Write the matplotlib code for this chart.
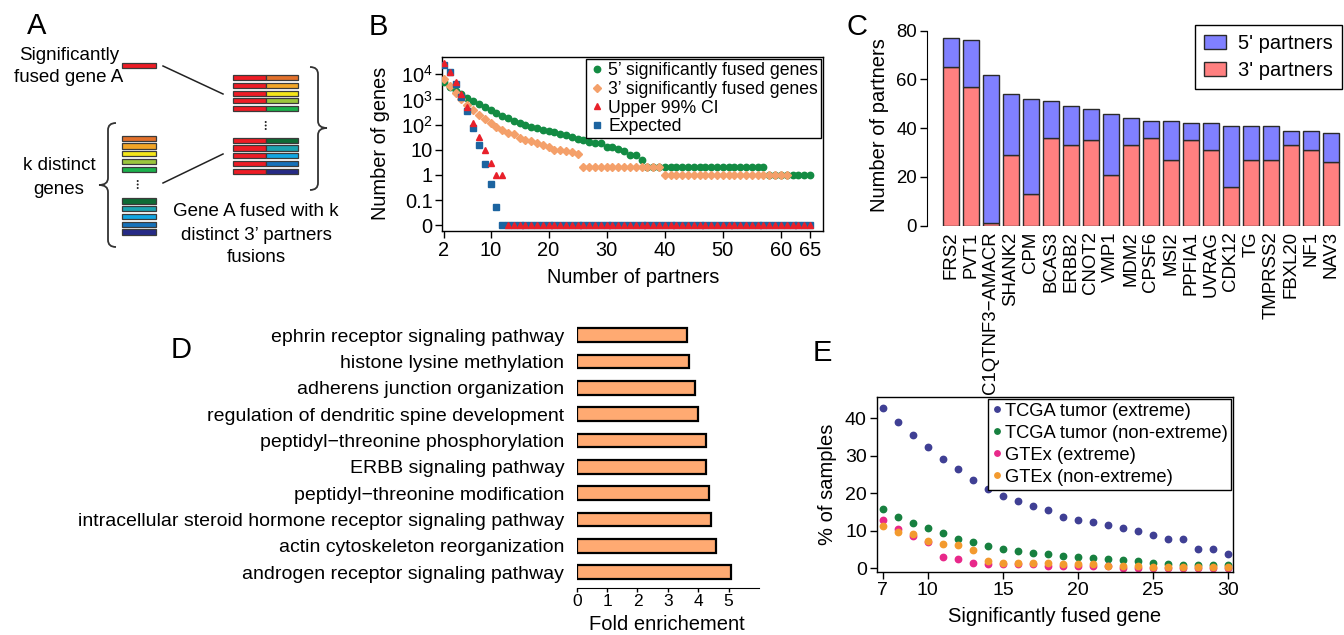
import numpy as np
import matplotlib
matplotlib.use("Agg")
import matplotlib.pyplot as plt
from matplotlib.patches import Rectangle, PathPatch, Circle
from matplotlib.path import Path

plt.rcParams['font.family'] = ['Liberation Sans', 'DejaVu Sans']
plt.rcParams['mathtext.fontset'] = 'custom'
plt.rcParams['mathtext.rm'] = 'Liberation Sans'
plt.rcParams['mathtext.it'] = 'Liberation Sans:italic'
plt.rcParams['axes.unicode_minus'] = True

# ---------------- DATA ----------------
# Panel A (schematic)
gene_a_color = '#EE1C25'
k_colors_top = ['#E2702B', '#F2A527', '#F5E61A', '#9BC53D', '#1BB14C']
k_colors_bottom = ['#0E6B35', '#1BA3B0', '#12A6E3', '#1571BA', '#262A86']

# Panel B
partners_b = np.arange(2, 66)
partners_b3 = np.arange(2, 62)
five_prime = [4900, 3200, 2200, 1600, 1170, 870, 660, 500, 380, 300,
              230, 183, 142, 115, 96, 82, 72, 60, 55, 49,
              42, 37, 32, 26, 24, 21, 18, 18, 13, 13,
              11, 9, 6, 6, 4,
              2, 2, 2, 2, 2, 2, 2, 2, 2, 2, 2, 2, 2, 2, 2, 2, 2, 2, 2, 2, 2,
              1, 1, 1, 1, 1, 1, 1, 1]
three_prime = [6300, 3400, 1750, 1000, 600, 380, 240, 160, 115, 82,
               59, 46, 41, 30, 24, 22, 19, 15, 13, 10,
               10, 9, 8, 7,
               2, 2, 2, 2, 2, 2, 2, 2, 2, 2, 2, 2, 2, 2,
               1, 1, 1, 1, 1, 1, 1, 1, 1, 1, 1, 1, 1, 1, 1, 1, 1, 1, 1, 1, 1, 1]
upper_ci = [27000, 12700, 5100, 1600, 490, 118, 32, 10, 3, 1, 1,
            0, 0, 0, 0, 0, 0, 0, 0, 0, 0, 0, 0, 0, 0, 0, 0, 0, 0, 0, 0,
            0, 0, 0, 0, 0, 0, 0, 0, 0, 0, 0, 0, 0, 0, 0, 0, 0, 0, 0, 0,
            0, 0, 0, 0, 0, 0, 0, 0, 0, 0, 0, 0, 0]
expected = [23000, 12000, 4200, 1300, 350, 74, 15, 2.6, 0.42, 0.055,
            0, 0, 0, 0, 0, 0, 0, 0, 0, 0, 0, 0, 0, 0, 0, 0, 0, 0, 0, 0,
            0, 0, 0, 0, 0, 0, 0, 0, 0, 0, 0, 0, 0, 0, 0, 0, 0, 0, 0, 0,
            0, 0, 0, 0, 0, 0, 0, 0, 0, 0, 0, 0, 0, 0]
b_yticks = [0.01, 0.1, 1, 10, 100, 1000, 10000]
b_yticklabels = ['0', '0.1', '1', '10', '$10^2$', '$10^3$', '$10^4$']
b_xticks = [2, 10, 20, 30, 40, 50, 60, 65]

# Panel C
genes_c = ['FRS2', 'PVT1', 'C1QTNF3\u2212AMACR', 'SHANK2', 'CPM', 'BCAS3', 'ERBB2',
           'CNOT2', 'VMP1', 'MDM2', 'CPSF6', 'MSI2', 'PPFIA1', 'UVRAG', 'CDK12',
           'TG', 'TMPRSS2', 'FBXL20', 'NF1', 'NAV3']
three_partners = [65, 57, 1, 29, 13, 36, 33, 35, 21, 33, 36, 27, 35, 31, 16, 27, 27, 33, 31, 26]
five_partners = [12, 19, 61, 25, 39, 15, 16, 13, 25, 11, 7, 16, 7, 11, 25, 14, 14, 6, 8, 12]

# Panel D (top to bottom)
go_terms = ['ephrin receptor signaling pathway',
            'histone lysine methylation',
            'adherens junction organization',
            'regulation of dendritic spine development',
            'peptidyl\u2212threonine phosphorylation',
            'ERBB signaling pathway',
            'peptidyl\u2212threonine modification',
            'intracellular steroid hormone receptor signaling pathway',
            'actin cytoskeleton reorganization',
            'androgen receptor signaling pathway']
fold_enrichment = [3.62, 3.68, 3.90, 3.98, 4.25, 4.27, 4.34, 4.42, 4.59, 5.09]

# Panel E
fused_gene = np.arange(7, 31)
tcga_extreme = [42.8, 38.9, 35.5, 32.3, 29.2, 26.5, 23.6, 21.2, 19.4, 17.9, 16.7, 15.6,
                13.7, 12.9, 12.4, 11.6, 10.7, 10.0, 9.0, 7.9, 7.8, 5.1, 5.1, 3.9]
tcga_nonextreme = [15.7, 13.7, 12.1, 10.7, 9.3, 7.8, 6.9, 6.0, 5.1, 4.6, 4.0, 3.7,
                   3.3, 3.0, 2.8, 2.4, 2.1, 1.9, 1.5, 1.2, 1.0, 1.0, 1.0, 0.8]
gtex_extreme = [12.9, 10.4, 8.7, 6.9, 3.1, 2.4, 1.3, 1.25, 1.25, 1.2, 1.2, 0.6,
                0.6, 0.6, 0.6, 0.5, 0.2, 0.2, 0.2, 0.1, 0.1, 0.1, 0.1, 0.1]
gtex_nonextreme = [11.2, 9.8, 9.1, 7.3, 6.6, 6.3, 4.9, 2.0, 1.35, 1.35, 1.4, 1.3,
                   1.1, 1.1, 1.1, 0.7, 0.6, 0.6, 0.4, 0.35, 0.35, 0.35, 0.35, 0.3]

# ---------------- FIGURE ----------------
W, H = 1344, 635
fig = plt.figure(figsize=(W / 100, H / 100), dpi=100)


def px_axes(x0, y0, x1, y1):
    return fig.add_axes([x0 / W, 1 - y1 / H, (x1 - x0) / W, (y1 - y0) / H])


def ftext(x, y, s, **kw):
    fig.text(x / W, 1 - y / H, s, **kw)


for lab, (lx, ly) in zip('ABCDE', [(37, 26), (378, 27), (857, 27), (181, 350), (822, 353)]):
    ftext(lx, ly, lab, fontsize=21, ha='center', va='center')

# ---------- Panel A ----------
axA = px_axes(0, 0, 340, 280)
axA.set_xlim(0, 340)
axA.set_ylim(280, 0)
axA.axis('off')
bh, pitch = 5.2, 7.75


def bar(ax, x0, x1, y0, color):
    ax.add_patch(Rectangle((x0 + 0.8, y0 + 0.8), x1 - x0, bh, facecolor='#b8b8b8',
                           edgecolor='none'))
    ax.add_patch(Rectangle((x0, y0), x1 - x0, bh, facecolor=color,
                           edgecolor='#3a3a3a', lw=0.9))


bar(axA, 122, 156, 62.5, gene_a_color)
for i, c in enumerate(k_colors_top):
    bar(axA, 122, 156, 135.7 + i * pitch, c)
    bar(axA, 233, 265.5, 75 + i * pitch, gene_a_color)
    bar(axA, 265.5, 298, 75 + i * pitch, c)
for i, c in enumerate(k_colors_bottom):
    bar(axA, 122, 156, 198.3 + i * pitch, c)
    bar(axA, 233, 265.5, 137.7 + i * pitch, gene_a_color)
    bar(axA, 265.5, 298, 137.7 + i * pitch, c)
for yy in (122.0, 125.5, 129.0):
    axA.add_patch(Circle((265.7, yy), 1.0, color='#222222', lw=0))
for yy in (181.0, 184.5, 188.0):
    axA.add_patch(Circle((137.7, yy), 1.0, color='#222222', lw=0))
axA.plot([163, 223], [66, 94], color='#222222', lw=1.1)
axA.plot([163, 223], [183, 154], color='#222222', lw=1.1)


def brace(ax, xe, xs, xt, y0, ym, y1, r):
    verts = [(xe, y0), (xs, y0), (xs, y0 + r), (xs, ym - r), (xs, ym), (xt, ym),
             (xs, ym), (xs, ym + r), (xs, y1 - r), (xs, y1), (xe, y1)]
    codes = [Path.MOVETO, Path.CURVE3, Path.CURVE3, Path.LINETO, Path.CURVE3, Path.CURVE3,
             Path.CURVE3, Path.CURVE3, Path.LINETO, Path.CURVE3, Path.CURVE3]
    ax.add_patch(PathPatch(Path(verts, codes), facecolor='none', edgecolor='#333333', lw=1.3))


brace(axA, 310, 318, 327, 67, 128, 190, 7)
brace(axA, 116, 108, 99, 123, 185, 247, 7)
fa = 13.5
axA.text(69, 55, 'Significantly', fontsize=fa, ha='center', va='center')
axA.text(69, 77, 'fused gene A', fontsize=fa, ha='center', va='center')
axA.text(59, 166, 'k distinct', fontsize=fa, ha='center', va='center')
axA.text(59, 190, 'genes', fontsize=fa, ha='center', va='center')
axA.text(256, 211, 'Gene A fused with k', fontsize=fa, ha='center', va='center')
axA.text(256, 235, 'distinct 3\u2019 partners', fontsize=fa, ha='center', va='center')
axA.text(256, 257, 'fusions', fontsize=fa, ha='center', va='center')

# ---------- Panel B ----------
axB = px_axes(442.3, 56.7, 823.3, 231)


def zero_floor(v):
    v = np.asarray(v, dtype=float)
    return np.where(v > 0, v, 0.01)


hB1, = axB.plot(partners_b, zero_floor(five_prime), 'o', color='#138B43', ms=4.6, ls='none', zorder=3)
hB2, = axB.plot(partners_b3, zero_floor(three_prime), 'D', color='#F4A06A', ms=3.6, ls='none', zorder=4)
hB4, = axB.plot(partners_b, zero_floor(expected), 's', color='#1C64A0', ms=4.6, ls='none', zorder=5)
hB3, = axB.plot(partners_b, zero_floor(upper_ci), '^', color='#E8202A', ms=4.6, ls='none', zorder=6)
axB.set_yscale('log')
axB.set_ylim(10 ** -2.23, 10 ** 4.70)
axB.set_xlim(1.7, 67.3)
axB.set_yticks(b_yticks, b_yticklabels)
axB.minorticks_off()
axB.set_xticks(b_xticks)
axB.tick_params(labelsize=14.4, length=5, width=1, direction='out', pad=2)
axB.set_xlabel('Number of partners', fontsize=14.4, labelpad=6)
axB.set_ylabel('Number of genes', fontsize=14.4, labelpad=8)
for s in axB.spines.values():
    s.set_linewidth(1)
legB = axB.legend([hB1, hB2, hB3, hB4],
                  ['5\u2019 significantly fused genes', '3\u2019 significantly fused genes',
                   'Upper 99% CI', 'Expected'],
                  loc='upper right', fontsize=12.7, frameon=True, fancybox=False,
                  edgecolor='black', borderaxespad=0.15, handletextpad=0.2,
                  handlelength=0.9, labelspacing=0.1, borderpad=0.15, framealpha=1)
legB.get_frame().set_linewidth(1)

# ---------- Panel C ----------
axC = px_axes(926.7, 25, 1342, 225.7)
xc = np.arange(len(genes_c))
bC3 = axC.bar(xc, three_partners, width=0.815, color='#FF8080', edgecolor='#2a2a2a', lw=1)
bC5 = axC.bar(xc, five_partners, bottom=three_partners, width=0.815, color='#8080FF',
              edgecolor='#2a2a2a', lw=1)
axC.set_xlim(-1.2, 19.56)
axC.set_ylim(0, 82.34)
for k in ('top', 'right', 'bottom'):
    axC.spines[k].set_visible(False)
axC.spines['left'].set_bounds(0, 80)
axC.set_yticks([0, 20, 40, 60, 80])
axC.set_xticks(xc, genes_c, rotation=90, fontsize=13.4)
axC.tick_params(axis='x', length=0, pad=4)
axC.tick_params(axis='y', labelsize=13.4, length=5, width=1, pad=2)
axC.set_ylabel('Number of partners', fontsize=14.5, labelpad=5)
legC = axC.legend([bC5, bC3], ["5' partners", "3' partners"], loc='upper right',
                  fontsize=14.5, frameon=True, fancybox=False, edgecolor='black',
                  borderaxespad=0.0, handlelength=1.1, handleheight=0.75,
                  handletextpad=0.6, labelspacing=0.4, borderpad=0.45, framealpha=1)
legC.get_frame().set_linewidth(1)

# ---------- Panel D ----------
axD = px_axes(576.7, 322, 759, 588)
yd = np.arange(len(go_terms))[::-1]
axD.barh(yd, fold_enrichment, height=0.52, color='#FFAA72', edgecolor='black', lw=1.6)
axD.set_xlim(0, 6)
axD.set_ylim(-0.6, 9.5)
for k in ('top', 'right', 'left'):
    axD.spines[k].set_visible(False)
axD.spines['bottom'].set_bounds(0, 6)
axD.set_xticks([0, 1, 2, 3, 4, 5])
axD.set_yticks(yd, go_terms, fontsize=14)
axD.tick_params(axis='y', length=0, pad=9)
axD.tick_params(axis='x', labelsize=12.5, length=3, width=1, pad=1)
ftext(667, 630.5, 'Fold enrichement', fontsize=14.5, ha='center', va='baseline')

# ---------- Panel E ----------
axE = px_axes(876.5, 397, 1233, 572)
hE1, = axE.plot(fused_gene, tcga_extreme, 'o', color='#3F3F94', ms=4.6, ls='none')
hE2, = axE.plot(fused_gene, tcga_nonextreme, 'o', color='#17803F', ms=4.6, ls='none')
hE3, = axE.plot(fused_gene, gtex_extreme, 'o', color='#E8288A', ms=4.6, ls='none')
hE4, = axE.plot(fused_gene, gtex_nonextreme, 'o', color='#F39A2E', ms=4.6, ls='none')
axE.set_xlim(6.59, 30.31)
axE.set_ylim(-1.0, 45.7)
axE.set_xticks([7, 10, 15, 20, 25, 30])
axE.set_yticks([0, 10, 20, 30, 40])
axE.tick_params(labelsize=14, length=5, width=1, pad=2)
axE.set_xlabel('Significantly fused gene', fontsize=14.5, labelpad=6)
axE.set_ylabel('% of samples', fontsize=14.5, labelpad=6)
for s in axE.spines.values():
    s.set_linewidth(1)
legE = axE.legend([hE1, hE2, hE3, hE4],
                  ['TCGA tumor (extreme)', 'TCGA tumor (non-extreme)',
                   'GTEx (extreme)', 'GTEx (non-extreme)'],
                  loc='upper right', fontsize=13.2, frameon=True, fancybox=False,
                  edgecolor='black', borderaxespad=0.1, handletextpad=0.1,
                  handlelength=0.6, labelspacing=0.28, borderpad=0.2, framealpha=1,
                  markerscale=0.85)
legE.get_frame().set_linewidth(1)

fig.savefig('out.png', dpi=100)
